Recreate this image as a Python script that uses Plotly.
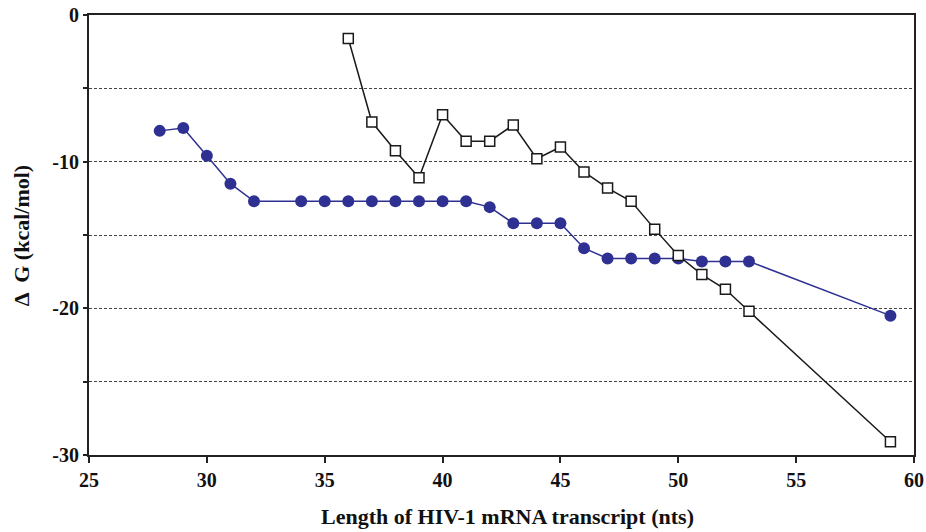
import plotly.graph_objects as go

circle_x = [28, 29, 30, 31, 32, 34, 35, 36, 37, 38, 39, 40, 41, 42, 43, 44, 45, 46, 47, 48, 49, 50, 51, 52, 53, 59]
circle_y = [-7.9, -7.7, -9.6, -11.5, -12.7, -12.7, -12.7, -12.7, -12.7, -12.7, -12.7, -12.7, -12.7, -13.1,
            -14.2, -14.2, -14.2, -15.9, -16.6, -16.6, -16.6, -16.6, -16.8, -16.8, -16.8, -20.5]

square_x = [36, 37, 38, 39, 40, 41, 42, 43, 44, 45, 46, 47, 48, 49, 50, 51, 52, 53, 59]
square_y = [-1.6, -7.3, -9.25, -11.1, -6.8, -8.6, -8.6, -7.5, -9.8, -9.0, -10.7, -11.8, -12.7, -14.6,
            -16.4, -17.7, -18.7, -20.2, -29.1]

x_ticks = [25, 30, 35, 40, 45, 50, 55, 60]
y_ticks = [0, -5, -10, -15, -20, -25, -30]
y_tick_labels = ["0", "", "-10", "", "-20", "", "-30"]

x_title = "Length of HIV-1 mRNA transcript (nts)"
y_title = "Δ  G (kcal/mol)"

font = "Liberation Serif"

fig = go.Figure()
fig.add_trace(go.Scatter(
    x=circle_x, y=circle_y, mode="lines+markers",
    line=dict(color="#2E3192", width=1.5),
    marker=dict(symbol="circle", size=12, color="#2E3192", line=dict(width=0)),
    showlegend=False, cliponaxis=False))
fig.add_trace(go.Scatter(
    x=square_x, y=square_y, mode="lines+markers",
    line=dict(color="#1a1a1a", width=1.5),
    marker=dict(symbol="square", size=10, color="white", line=dict(color="#1a1a1a", width=1.5)),
    showlegend=False, cliponaxis=False))

tickfont = dict(family=font, size=20, color="#111", weight="bold")

fig.update_layout(
    width=926, height=532,
    margin=dict(l=89, r=12, t=15, b=77),
    plot_bgcolor="white", paper_bgcolor="white",
    font=dict(family=font, size=20, color="#111"),
    xaxis=dict(
        range=[25, 60], tickvals=x_ticks, ticktext=[str(v) for v in x_ticks],
        tickfont=tickfont, automargin=False,
        showgrid=False, zeroline=False,
        showline=True, linecolor="#222", linewidth=2, mirror=True,
        ticks="outside", ticklen=6, tickwidth=1.5, tickcolor="#222",
    ),
    yaxis=dict(
        range=[-30, 0], tickvals=y_ticks, ticktext=y_tick_labels,
        tickfont=tickfont, automargin=False,
        showgrid=True, gridcolor="#444", griddash="3px,2px", gridwidth=1,
        zeroline=False,
        showline=True, linecolor="#222", linewidth=2, mirror=True,
        ticks="outside", ticklen=4, tickwidth=1.5, tickcolor="#222",
    ),
    annotations=[
        dict(text=x_title, xref="paper", yref="paper", x=0.507, y=-0.172,
             xanchor="center", yanchor="bottom", showarrow=False,
             font=dict(family=font, size=22, color="#111", weight="bold")),
        dict(text=y_title, xref="paper", yref="paper", x=-0.082, y=0.5,
             xanchor="center", yanchor="middle", showarrow=False, textangle=-90,
             font=dict(family=font, size=22, color="#111", weight="bold")),
    ],
)

fig.write_html("out.html", config={"displayModeBar": False},
               post_script="document.body.style.margin='0';document.body.style.overflow='hidden';")
